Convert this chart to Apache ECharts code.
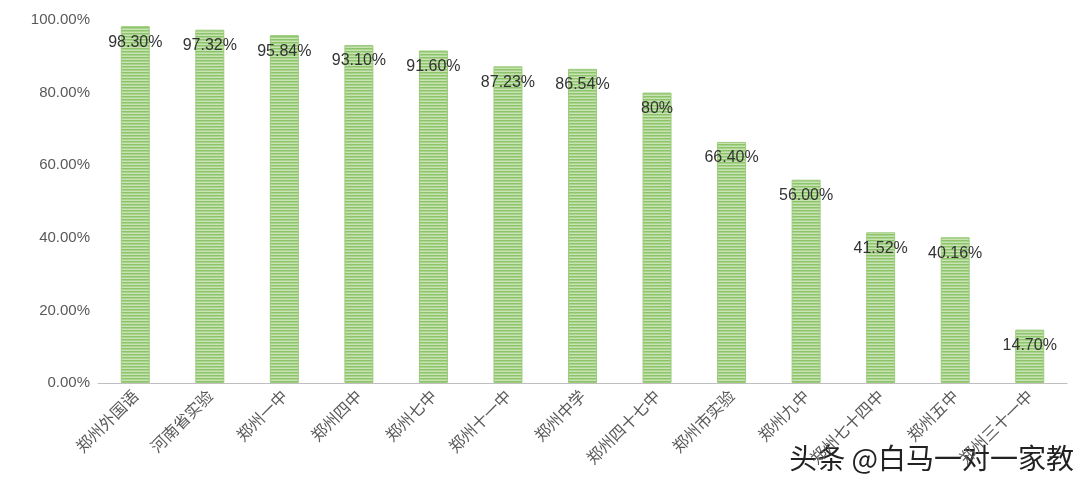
<!DOCTYPE html>
<html><head><meta charset="utf-8">
<script src="https://cdn.jsdelivr.net/npm/echarts@6/dist/echarts.min.js"></script>
<style>html,body{margin:0;background:#fff}#c{width:1080px;height:485px}</style>
</head><body><div id="c"></div>
<script>
const schools = ['郑州外国语', '河南省实验', '郑州一中', '郑州四中', '郑州七中', '郑州十一中', '郑州中学',
  '郑州四十七中', '郑州市实验', '郑州九中', '郑州七十四中', '郑州五中', '郑州三十一中'];
const rates = [98.30, 97.32, 95.84, 93.10, 91.60, 87.23, 86.54, 80, 66.40, 56.00, 41.52, 40.16, 14.70];
const rateLabels = ['98.30%', '97.32%', '95.84%', '93.10%', '91.60%', '87.23%', '86.54%', '80%',
  '66.40%', '56.00%', '41.52%', '40.16%', '14.70%'];

// horizontal stripe fill
const stripe = document.createElement('canvas');
stripe.width = 4; stripe.height = 3;
const ctx = stripe.getContext('2d');
ctx.fillStyle = '#c9e3b4'; ctx.fillRect(0, 0, 4, 3);
ctx.fillStyle = '#8cc46a'; ctx.fillRect(0, 0, 4, 1.5);

const chart = echarts.init(document.getElementById('c'));
chart.setOption({
  animation: false,
  grid: { left: 98, right: 13, top: 20, bottom: 102 },
  xAxis: {
    type: 'category', data: schools,
    axisLine: { lineStyle: { color: '#bfbfbf' } },
    axisTick: { show: false },
    axisLabel: { rotate: 45, color: '#595959', fontSize: 16, margin: 10, fontFamily: 'Noto Sans CJK SC' }
  },
  yAxis: {
    type: 'value', min: 0, max: 100, interval: 20,
    splitLine: { show: false },
    axisLabel: { color: '#595959', fontSize: 15, formatter: v => v.toFixed(2) + '%' }
  },
  series: [{
    type: 'bar', data: rates, barWidth: 29,
    itemStyle: { color: { image: stripe, repeat: 'repeat' }, borderColor: '#9ccc7c', borderWidth: 1 },
    label: {
      show: true, position: 'insideTop', distance: 8, color: '#333', fontSize: 16,
      formatter: p => rateLabels[p.dataIndex]
    }
  }],
  graphic: [{ type: 'text', right: 6, top: 444,
    style: { text: '头条 @白马一对一家教', fill: '#222', font: '28px "Noto Sans CJK SC"' } }]
});
</script></body></html>
